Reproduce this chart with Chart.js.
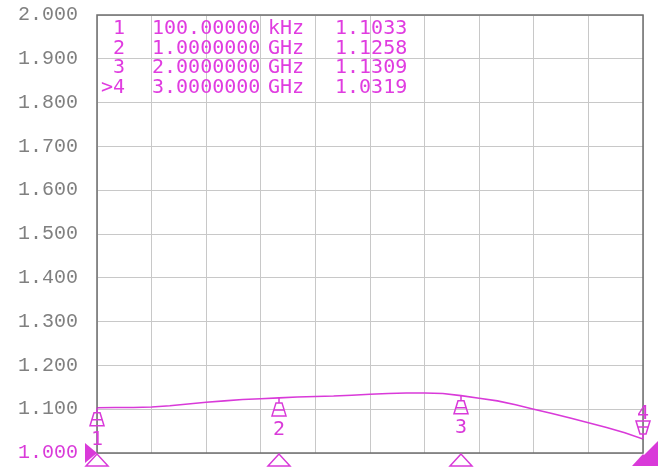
<!DOCTYPE html>
<html>
<head>
<meta charset="utf-8">
<script src="https://cdn.jsdelivr.net/npm/chart.js@4.4.1/dist/chart.umd.min.js"></script>
<style>
  body { margin: 0; background: #fff; }
  #wrap { position: relative; width: 664px; height: 468px; }
  .mk { position: absolute; font-family: "DejaVu Sans Mono", monospace; font-size: 20px; line-height: 19.5px; color: #e03ce0; white-space: pre; }
</style>
</head>
<body>
<div id="wrap">
  <canvas id="myChart" width="664" height="468"></canvas>
  <div class="mk" id="colNum" style="left:89px; top:18px; width:36px; text-align:right;"></div>
  <div class="mk" id="colFreq" style="left:152px; top:18px;"></div>
  <div class="mk" id="colUnit" style="left:268px; top:18px;"></div>
  <div class="mk" id="colVal" style="left:335px; top:18px;"></div>
</div>
<script>
// sweep, GHz
var freqGHz = [0.0001, 0.1, 0.2, 0.3, 0.4, 0.5, 0.6, 0.7, 0.8, 0.9, 1.0,
               1.1, 1.2, 1.3, 1.4, 1.5, 1.6, 1.7, 1.8, 1.9, 2.0,
               2.1, 2.2, 2.3, 2.4, 2.5, 2.6, 2.7, 2.8, 2.9, 3.0];
var swr = [1.1033, 1.104, 1.104, 1.105, 1.108, 1.112, 1.116, 1.119, 1.122, 1.124, 1.1258,
           1.128, 1.129, 1.130, 1.132, 1.134, 1.136, 1.137, 1.137, 1.136, 1.1309,
           1.125, 1.119, 1.110, 1.100, 1.090, 1.080, 1.069, 1.058, 1.046, 1.0319];

// markers
var markerNames = ['1', '2', '3', '>4'];
var markerFreq = [0.0001, 1, 2, 3];
var markerFreqText = ['100.00000', '1.0000000', '2.0000000', '3.0000000'];
var markerUnit = ['kHz', 'GHz', 'GHz', 'GHz'];
var markerSwr = [1.1033, 1.1258, 1.1309, 1.0319];

var yTicks = ['1.000', '1.100', '1.200', '1.300', '1.400', '1.500', '1.600', '1.700', '1.800', '1.900', '2.000'];

var mag = '#d93ad9';

document.getElementById('colNum').textContent = markerNames.join('\n');
document.getElementById('colFreq').textContent = markerFreqText.join('\n');
document.getElementById('colUnit').textContent = markerUnit.join('\n');
document.getElementById('colVal').textContent = markerSwr.map(function (v) { return v.toFixed(4); }).join('\n');

var points = freqGHz.map(function (f, i) { return { x: f, y: swr[i] }; });

var markerPlugin = {
  id: 'markers',
  afterDraw: function (chart) {
    var ctx = chart.ctx, xs = chart.scales.x, ys = chart.scales.y, a = chart.chartArea;
    ctx.save();
    // frame
    ctx.strokeStyle = '#6e6e6e';
    ctx.lineWidth = 1.5;
    ctx.strokeRect(a.left, a.top, a.right - a.left, a.bottom - a.top);

    ctx.strokeStyle = mag;
    ctx.fillStyle = mag;
    ctx.lineWidth = 1.5;
    ctx.font = '20px "DejaVu Sans Mono"';
    ctx.textAlign = 'center';
    ctx.textBaseline = 'alphabetic';

    for (var i = 0; i < markerFreq.length; i++) {
      var px = xs.getPixelForValue(markerFreq[i]);
      var py = ys.getPixelForValue(markerSwr[i]);
      var d = (i === 3) ? -1 : 1;   // last marker drawn above the trace
      ctx.beginPath();
      ctx.moveTo(px, py);
      ctx.lineTo(px, py + d * 5);
      ctx.moveTo(px - 3, py + d * 5);
      ctx.lineTo(px + 3, py + d * 5);
      ctx.lineTo(px + 7, py + d * 18);
      ctx.lineTo(px - 7, py + d * 18);
      ctx.closePath();
      ctx.moveTo(px - 5, py + d * 12);
      ctx.lineTo(px + 5, py + d * 12);
      ctx.stroke();
      ctx.fillText(markerNames[i].replace('>', ''), px, d > 0 ? py + 37 : py - 20);

      // bottom triangle
      ctx.beginPath();
      ctx.moveTo(px, a.bottom + 1);
      ctx.lineTo(px - 11, a.bottom + 13);
      ctx.lineTo(px + 11, a.bottom + 13);
      ctx.closePath();
      if (i === 3) ctx.fill(); else ctx.stroke();
    }
    // active marker corner
    var rx = xs.getPixelForValue(3);
    ctx.beginPath();
    ctx.moveTo(rx - 10, a.bottom + 13);
    ctx.lineTo(rx + 15, a.bottom - 12);
    ctx.lineTo(rx + 15, a.bottom + 13);
    ctx.closePath();
    ctx.fill();

    // reference level arrow
    ctx.beginPath();
    ctx.moveTo(a.left - 12, a.bottom - 10);
    ctx.lineTo(a.left - 12, a.bottom + 10);
    ctx.lineTo(a.left, a.bottom);
    ctx.closePath();
    ctx.fill();
    ctx.restore();
  }
};

var myChart = new Chart('myChart', {
  type: 'line',
  data: {
    datasets: [{
      data: points,
      borderColor: mag,
      borderWidth: 1.6,
      pointRadius: 0,
      tension: 0,
      fill: false
    }]
  },
  options: {
    responsive: false,
    animation: false,
    events: [],
    layout: { padding: { top: 15, right: 21, bottom: 15, left: 0 } },
    plugins: { legend: { display: false }, tooltip: { enabled: false } },
    scales: {
      x: {
        type: 'linear',
        min: 0,
        max: 3,
        ticks: { display: false, stepSize: 0.3 },
        grid: { color: '#c8c8c8', lineWidth: 1, drawTicks: false },
        border: { display: false },
        afterFit: function (s) { s.height = 0; s.paddingLeft = 0; s.paddingRight = 0; }
      },
      y: {
        min: 1,
        max: 2,
        ticks: {
          stepSize: 0.1,
          padding: 19,
          font: { family: 'Liberation Mono', size: 20 },
          color: function (c) { return c.index === 0 ? mag : '#808080'; },
          callback: function (v, i) { return yTicks[i]; }
        },
        grid: { color: '#c8c8c8', lineWidth: 1, drawTicks: false },
        border: { display: false },
        afterFit: function (s) { s.width = 97; s.paddingTop = 0; s.paddingBottom = 0; }
      }
    }
  },
  plugins: [markerPlugin]
});
</script>
</body>
</html>
